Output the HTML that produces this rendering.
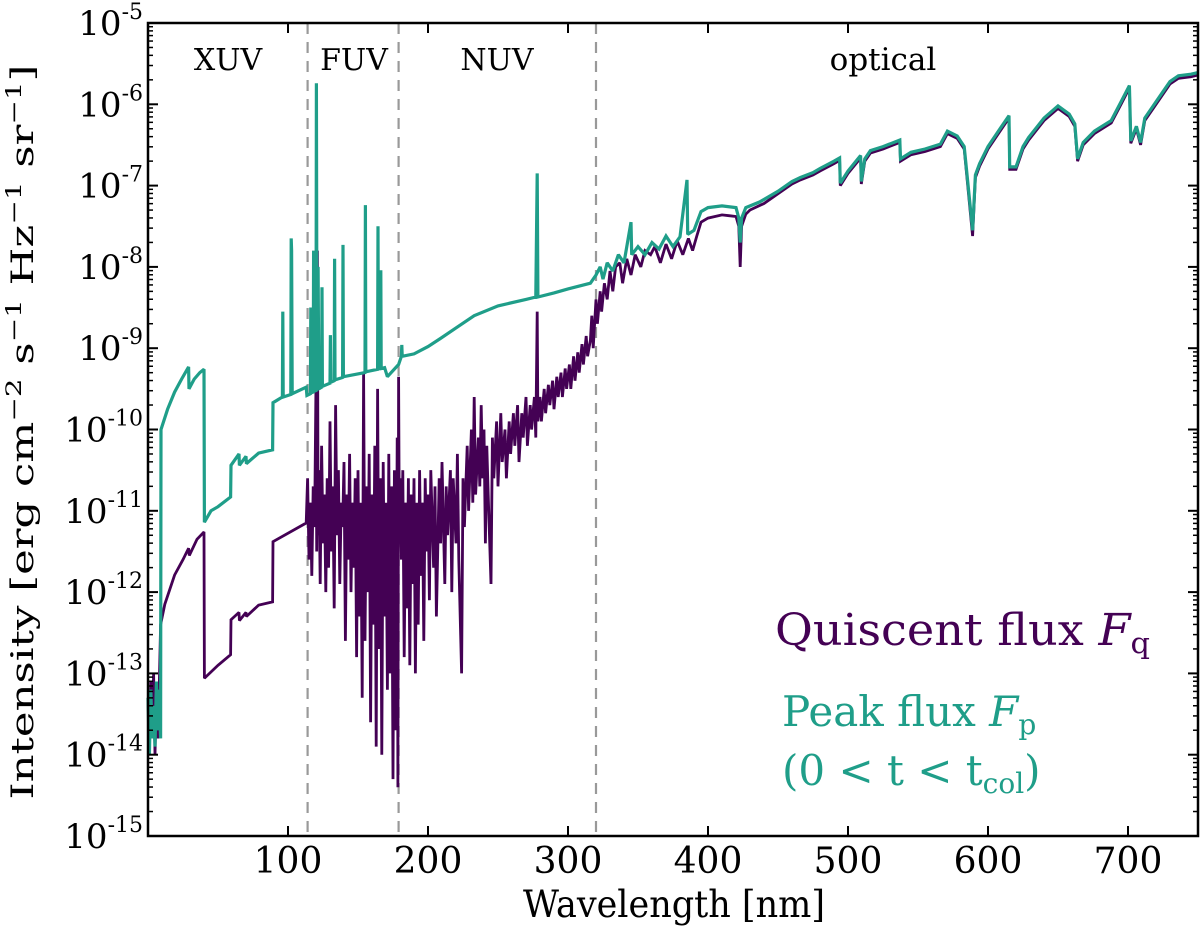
<!DOCTYPE html>
<html><head><meta charset="utf-8">
<style>
html,body{margin:0;padding:0;background:#fff;}
svg{display:block;}
text{font-family:"DejaVu Serif","Liberation Serif",serif;}
</style></head>
<body>
<svg id="chart" width="1200" height="926" viewBox="0 0 1200 926" xmlns="http://www.w3.org/2000/svg">
<g id="plot"></g>
<g id="axes"></g>
<text x="228" y="70" font-size="30" text-anchor="middle">XUV</text>
<text x="354" y="70" font-size="30" text-anchor="middle">FUV</text>
<text x="497" y="70" font-size="30" text-anchor="middle">NUV</text>
<text x="883" y="70" font-size="31" text-anchor="middle">optical</text>
<g>
<text x="775" y="645" font-size="44" fill="#440154" textLength="375" lengthAdjust="spacingAndGlyphs">Quiscent flux <tspan font-style="italic">F</tspan><tspan font-size="29" dy="8">q</tspan></text>
<text x="782" y="726" font-size="42" fill="#1f9e89">Peak flux <tspan font-style="italic">F</tspan><tspan font-size="28" dy="8">p</tspan></text>
<text x="782" y="785" font-size="42" fill="#1f9e89">(0 &lt; t &lt; t<tspan font-size="28" dy="8">col</tspan><tspan dy="-8">)</tspan></text>
</g>
<text x="674" y="917" font-size="37" text-anchor="middle" textLength="302" lengthAdjust="spacingAndGlyphs">Wavelength [nm]</text>
<text transform="translate(33,432) rotate(-90)" font-size="31" text-anchor="middle" textLength="735" lengthAdjust="spacingAndGlyphs">Intensity [erg cm<tspan font-size="21" dy="-12">−2</tspan><tspan dy="12"> s</tspan><tspan font-size="21" dy="-12">−1</tspan><tspan dy="12"> Hz</tspan><tspan font-size="21" dy="-12">−1</tspan><tspan dy="12"> sr</tspan><tspan font-size="21" dy="-12">−1</tspan><tspan dy="12">]</tspan></text>
</svg>
<script>
const xTicks = [100,200,300,400,500,600,700];
const yTickExps = [-5,-6,-7,-8,-9,-10,-11,-12,-13,-14,-15];
const regionBounds = [114,179,320];
const quiescentWl = [0,1,2,3,4,5,6,7,8,9,12,19,25,29,29.5,35,40,40.3,50,59,59.3,65,65.3,70,70.3,79,89,89.3,113,
114,115,116,117,118,119,120,120.5,121,121.5,122,123,124,125,126,127,128,129,130,131,132,133,134,135,136,137,138,139,140,141,142,143,144,145,146,147,148,149,150,151,152,153,154,155,156,157,158,159,160,161,162,163,164,165,166,167,168,169,170,171,172,173,174,175,176,177,178,178.5,179,179.5,180,
181,182,183,184,185,186,187,188,189,190,191,192,193,194,195,196,197,198,199,200,201,202,204,205,206,208,209,210,212,213,214,216,217,218,220,221,222,224,225,226,228,229,231,232,233,234,236,237,238,239,240,241,242,243,245,246,247,249,250,252,253,255,256,258,259,261,262,264,265,267,268,270,271,273,274,276,277,278,278.5,280,281,283,284,286,287,289,290,292,293,295,296,298,299,301,302,304,305,307,308,310,311,313,314,316,317,318,320,321,323,324,326,328,330,332,334,337,339,342,345,348,352,355,359,362,366,370,374,378,382,386,389,392,395,400,405,410,415,420,422,423,424,427,430,440,450,460,466,475,480,490,494,494.5,500,509,509.5,512,516,525,537,537.5,545,555,566,571,578,583,589,591,594,600,609,615,615.5,620,625,629,640,650,658,662,664,668,676,688,695,701,702,706,709,712,718,724,730,736,745,750];
const quiescentLogI = [-13.3,-13.9,-13.1,-13.7,-13.0,-14.0,-13.3,-13.8,-13.2,-12.4,-12.15,-11.79,-11.6,-11.46,-11.55,-11.35,-11.26,-13.06,-12.9,-12.77,-12.34,-12.25,-12.35,-12.25,-12.3,-12.16,-12.12,-11.38,-11.15,
-10.6,-11.6,-10.9,-11.8,-10.7,-11.2,-9.4,-11.5,-7.8,-11.3,-10.5,-11.9,-10.2,-11.4,-10.8,-12.0,-10.6,-11.7,-9.9,-11.5,-10.7,-12.2,-9.7,-11.3,-10.5,-11.9,-10.9,-11.2,-10.4,-12.6,-10.8,-11.6,-10.3,-12.0,-10.9,-11.7,-10.6,-12.8,-10.5,-12.3,-10.9,-13.3,-9.3,-12.6,-10.7,-12.0,-10.3,-13.6,-10.8,-12.4,-10.2,-13.9,-9.5,-12.7,-10.6,-14.0,-10.4,-12.3,-10.9,-13.2,-10.3,-13.0,-10.7,-14.3,-10.5,-13.7,-10.1,-14.4,-9.35,-11.2,-10.6,
-11.6,-10.5,-12.8,-10.9,-12.2,-10.6,-12.9,-10.8,-11.9,-10.6,-13.0,-10.9,-12.4,-10.5,-11.8,-10.9,-12.6,-10.6,-11.5,-10.8,-12.1,-10.5,-11.7,-10.7,-12.3,-10.6,-11.4,-10.4,-11.9,-10.7,-11.3,-10.5,-12.0,-10.6,-11.4,-10.3,-11.6,-13.0,-10.6,-11.2,-10.2,-11.0,-10.0,-10.9,-9.6,-10.8,-10.1,-10.7,-9.7,-10.6,-10.0,-11.4,-10.2,-10.8,-11.9,-10.1,-10.6,-9.9,-10.7,-9.8,-10.4,-10.0,-10.6,-9.9,-10.3,-9.8,-10.2,-9.7,-10.4,-9.8,-10.1,-9.6,-10.2,-9.7,-10.0,-9.6,-10.1,-8.55,-9.9,-9.6,-9.9,-9.5,-9.8,-9.45,-9.7,-9.4,-9.75,-9.35,-9.6,-9.3,-9.6,-9.25,-9.5,-9.2,-9.5,-9.1,-9.4,-9.05,-9.3,-8.95,-9.2,-8.85,-9.1,-8.9,-8.6,-9.0,-8.4,-8.7,-8.3,-8.55,-8.2,-8.4,-8.05,-8.3,-8.0,-7.95,-8.2,-7.9,-8.1,-7.85,-8.0,-7.8,-7.85,-7.75,-7.95,-7.72,-7.9,-7.68,-7.85,-7.65,-7.8,-7.62,-7.45,-7.4,-7.38,-7.36,-7.37,-7.38,-7.5,-8.0,-7.5,-7.35,-7.3,-7.22,-7.1,-6.98,-6.93,-6.87,-6.82,-6.73,-6.69,-7.0,-6.85,-6.66,-6.98,-6.7,-6.6,-6.55,-6.47,-6.7,-6.62,-6.58,-6.52,-6.36,-6.42,-6.55,-7.62,-6.9,-6.76,-6.55,-6.32,-6.17,-6.8,-6.8,-6.55,-6.44,-6.2,-6.05,-6.15,-6.27,-6.7,-6.5,-6.36,-6.23,-6.0,-5.8,-6.48,-6.3,-6.5,-6.2,-6.05,-5.9,-5.75,-5.68,-5.66,-5.64];
const peakWl = [0,1,2,3,4,5,6,7,8,9,9.3,14,19,24,29,29.3,33,37,40,40.3,45,50,59,59.3,65,65.3,70,70.3,79,89,89.3,96,96.3,96.6,102,102.3,102.6,103,113,113.5,
116,116.3,116.6,118,118.3,118.6,120,120.3,120.7,121,121.5,122,124,124.3,124.6,130,130.3,130.6,133,133.3,133.6,139,139.3,139.6,155,155.3,155.6,164,164.3,164.6,166,166.3,166.6,169,171,179,181,181.3,181.6,190,200,209,220,233,250,270,277,278,278.5,290,300,316,320,323,325,328,332,336,340,345,345.5,350,355,360,365,370,375,380,385,385.5,390,395,400,410,420,422,423,424,427,437,
450,460,466,475,480,490,494,494.5,500,509,509.5,512,516,525,537,537.5,545,555,566,571,578,583,589,591,594,600,609,615,615.5,620,625,629,640,650,658,662,664,668,676,688,695,701,702,706,709,712,718,724,730,736,745,750];
const peakLogI = [-13.3,-14.0,-13.2,-13.8,-13.4,-13.9,-13.1,-13.7,-13.2,-13.8,-10.0,-9.75,-9.54,-9.38,-9.23,-9.5,-9.38,-9.3,-9.26,-11.14,-11.0,-10.95,-10.83,-10.44,-10.3,-10.44,-10.33,-10.42,-10.29,-10.25,-9.67,-9.6,-8.55,-9.6,-9.57,-7.65,-7.8,-9.56,-9.48,-9.58,
-9.56,-8.5,-9.55,-9.54,-7.8,-9.53,-9.52,-5.74,-9.52,-9.5,-8.0,-9.5,-9.48,-8.25,-9.47,-9.43,-8.84,-9.42,-9.4,-7.9,-9.39,-9.36,-7.73,-9.35,-9.3,-7.24,-9.29,-9.26,-7.5,-9.25,-9.25,-8.04,-9.25,-9.24,-9.35,-9.2,-9.1,-8.96,-9.1,-9.07,-8.98,-8.88,-8.75,-8.6,-8.48,-8.4,-8.37,-6.85,-8.37,-8.32,-8.27,-8.2,-8.1,-8.0,-8.15,-7.95,-8.05,-7.85,-7.95,-7.45,-7.85,-7.75,-7.85,-7.7,-7.78,-7.62,-7.75,-7.63,-6.93,-7.6,-7.55,-7.32,-7.27,-7.25,-7.27,-7.4,-7.7,-7.4,-7.27,-7.2,
-7.07,-6.95,-6.9,-6.84,-6.79,-6.7,-6.66,-6.97,-6.82,-6.63,-6.95,-6.67,-6.57,-6.52,-6.44,-6.67,-6.59,-6.55,-6.49,-6.33,-6.39,-6.52,-7.55,-6.87,-6.73,-6.52,-6.29,-6.14,-6.77,-6.77,-6.52,-6.41,-6.17,-6.02,-6.12,-6.24,-6.67,-6.47,-6.33,-6.2,-5.97,-5.77,-6.45,-6.27,-6.47,-6.17,-6.02,-5.87,-5.72,-5.65,-5.63,-5.61];

const X0=148, X1=1198, Y0=23, Y1=836, XMIN=0, XMAX=750, YMAXE=-5, YMINE=-15;
function xs(v){return X0+(v-XMIN)/(XMAX-XMIN)*(X1-X0);}
function ys(e){return Y0+(YMAXE-e)/(YMAXE-YMINE)*(Y1-Y0);}
const NS="http://www.w3.org/2000/svg";
function mk(tag,attrs,parent){const el=document.createElementNS(NS,tag);for(const k in attrs)el.setAttribute(k,attrs[k]);parent.appendChild(el);return el;}
const plot=document.getElementById('plot');
const axes=document.getElementById('axes');

regionBounds.forEach(b=>{
  const l=mk('line',{x1:xs(b),x2:xs(b),y1:Y0,y2:Y1,stroke:'#999','stroke-width':2.2,'stroke-dasharray':'11,8'},plot);
  
  
});

function series(wl,lg,color,name,w){
  let d='';
  for(let i=0;i<wl.length;i++){d+=(i?'L':'M')+xs(wl[i]).toFixed(1)+','+ys(lg[i]).toFixed(1);}
  const p=mk('path',{d:d,fill:'none',stroke:color,'stroke-width':w,'stroke-linejoin':'miter','stroke-miterlimit':2},plot);
  
  
}
series(quiescentWl,quiescentLogI,'#440154','quiescent-flux-line',2.8);
series(peakWl,peakLogI,'#1f9e89','peak-flux-line',3.2);

const fr=mk('rect',{x:X0,y:Y0,width:X1-X0,height:Y1-Y0,fill:'none',stroke:'#000','stroke-width':2.5},axes);



xTicks.forEach(t=>{
  const x=xs(t);
  mk('line',{x1:x,x2:x,y1:Y1,y2:Y1-10,stroke:'#000','stroke-width':2},axes);
  mk('line',{x1:x,x2:x,y1:Y0,y2:Y0+10,stroke:'#000','stroke-width':2},axes);
  const tx=mk('text',{x:x,y:Y1+37,'font-size':36,'text-anchor':'middle'},axes);
  tx.textContent=t;
  
  
});
yTickExps.forEach(e=>{
  const y=ys(e);
  mk('line',{x1:X0,x2:X0+10,y1:y,y2:y,stroke:'#000','stroke-width':2},axes);
  mk('line',{x1:X1,x2:X1-10,y1:y,y2:y,stroke:'#000','stroke-width':2},axes);
  if(e>YMINE){
    for(let m=2;m<10;m++){
      const ym=ys(e-1+Math.log10(m));
      mk('line',{x1:X0,x2:X0+5,y1:ym,y2:ym,stroke:'#000','stroke-width':1.5},axes);
      mk('line',{x1:X1,x2:X1-5,y1:ym,y2:ym,stroke:'#000','stroke-width':1.5},axes);
    }
  }
  const tx=mk('text',{x:143,y:y+12,'font-size':34,'text-anchor':'end'},axes);
  
  
  const base=mk('tspan',{},tx);
  base.textContent='10';
  const sp=mk('tspan',{'font-size':22,dy:-16},tx);
  sp.textContent=String(e);
});
</script>
</body></html>
